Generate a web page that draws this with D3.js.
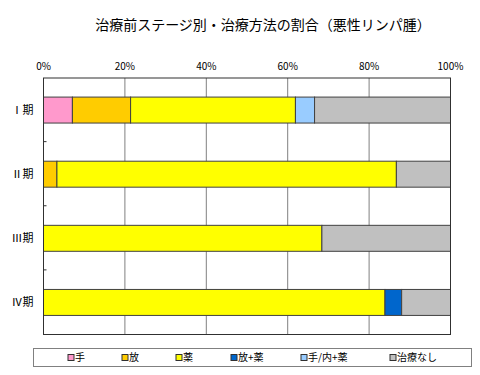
<!DOCTYPE html>
<html>
<head>
<meta charset="utf-8">
<script src="https://cdn.jsdelivr.net/npm/d3@7"></script>
<style>
  body { margin: 0; background: #fff; }
  text { font-family: "Noto Sans CJK JP", "Noto Sans", sans-serif; fill: #000; }
</style>
</head>
<body>
<div id="chart"></div>
<script>
const stages = ["Ⅰ期", "Ⅱ期", "Ⅲ期", "Ⅳ期"];
const methods = ["手", "放", "薬", "放+薬", "手/内+薬", "治療なし"];
const colors = ["#FF99CC", "#FFCC00", "#FFFF00", "#0066CC", "#99CCFF", "#C0C0C0"];

// percent per stage, in the order of methods
const teValues      = [7.1, 0, 0, 0];
const houValues     = [14.3, 3.3, 0, 0];
const yakuValues    = [40.5, 83.4, 68.4, 83.9];
const houYakuValues = [0, 0, 0, 4.1];
const teNaiValues   = [4.7, 0, 0, 0];
const nashiValues   = [33.4, 13.3, 31.6, 12.0];

const xTicks = [0, 20, 40, 60, 80, 100];

const width = 480, height = 375;
const margin = { top: 78, right: 30, bottom: 41, left: 43.5 };
const innerW = 450.5 - margin.left;
const innerH = 334.5 - margin.top;

const series = [teValues, houValues, yakuValues, houYakuValues, teNaiValues, nashiValues];
const rows = stages.map((s, i) => {
  const r = { stage: s };
  methods.forEach((m, j) => r[m] = series[j][i]);
  return r;
});
const stacked = d3.stack().keys(methods)(rows);

const svg = d3.select("#chart").append("svg")
  .attr("width", width)
  .attr("height", height);

svg.append("text")
  .attr("x", 263)
  .attr("y", 30)
  .attr("text-anchor", "middle")
  .attr("font-size", 14)
  .text("治療前ステージ別・治療方法の割合（悪性リンパ腫）");

const g = svg.append("g")
  .attr("transform", `translate(${margin.left},${margin.top})`);

const x = d3.scaleLinear().domain([0, 100]).range([0, innerW]);
const y = d3.scaleBand().domain(stages).range([0, innerH]).paddingInner(0.595).paddingOuter(0.2975);

g.append("rect")
  .attr("width", innerW).attr("height", innerH)
  .attr("fill", "#fff");

// gridlines
g.selectAll(".grid")
  .data(xTicks.slice(1, -1))
  .join("line")
  .attr("x1", d => x(d)).attr("x2", d => x(d))
  .attr("y1", 0).attr("y2", innerH)
  .attr("stroke", "#808080").attr("stroke-width", 1);

// bars
g.selectAll(".layer")
  .data(stacked)
  .join("g")
  .attr("fill", (d, i) => colors[i])
  .selectAll("rect")
  .data(d => d.filter(p => p[1] - p[0] > 0))
  .join("rect")
  .attr("x", d => x(d[0]))
  .attr("y", d => y(d.data.stage))
  .attr("width", d => x(d[1]) - x(d[0]))
  .attr("height", y.bandwidth())
  .attr("stroke", "#404040")
  .attr("stroke-width", 1);

// plot border
g.append("rect")
  .attr("width", innerW).attr("height", innerH)
  .attr("fill", "none")
  .attr("stroke", "#303030").attr("stroke-width", 1);

// top axis labels
g.selectAll(".xlab")
  .data(xTicks)
  .join("text")
  .attr("x", d => x(d))
  .attr("y", -8)
  .attr("text-anchor", "middle")
  .attr("font-size", 10)
  .text(d => d + "%");

// small ticks between categories
const step = y.step();
g.selectAll(".ytick")
  .data(stages.slice(1))
  .join("line")
  .attr("x1", 0).attr("x2", 3)
  .attr("y1", d => y(d) - step * 0.5 + y.bandwidth() * 0.5 - 0.5)
  .attr("y2", d => y(d) - step * 0.5 + y.bandwidth() * 0.5 - 0.5)
  .attr("stroke", "#303030");

// category labels
g.selectAll(".ylab")
  .data(stages)
  .join("text")
  .attr("x", -10)
  .attr("y", d => y(d) + y.bandwidth() / 2)
  .attr("dy", "0.35em")
  .attr("text-anchor", "end")
  .attr("font-size", 11)
  .text(d => d);

// legend
const legend = svg.append("g");
legend.append("rect")
  .attr("x", 33.5).attr("y", 348.5)
  .attr("width", 438).attr("height", 18)
  .attr("fill", "#fff")
  .attr("stroke", "#808080");

const legendX = [71, 125, 179, 234, 304, 393];
const items = legend.selectAll(".item")
  .data(methods)
  .join("g")
  .attr("transform", (d, i) => `translate(${legendX[i]},357.5)`);

items.append("rect")
  .attr("x", -3).attr("y", -3)
  .attr("width", 6).attr("height", 6)
  .attr("fill", (d, i) => colors[i])
  .attr("stroke", "#303030");

items.append("text")
  .attr("x", 4)
  .attr("dy", "0.35em")
  .attr("font-size", 10)
  .text(d => d);
</script>
</body>
</html>
